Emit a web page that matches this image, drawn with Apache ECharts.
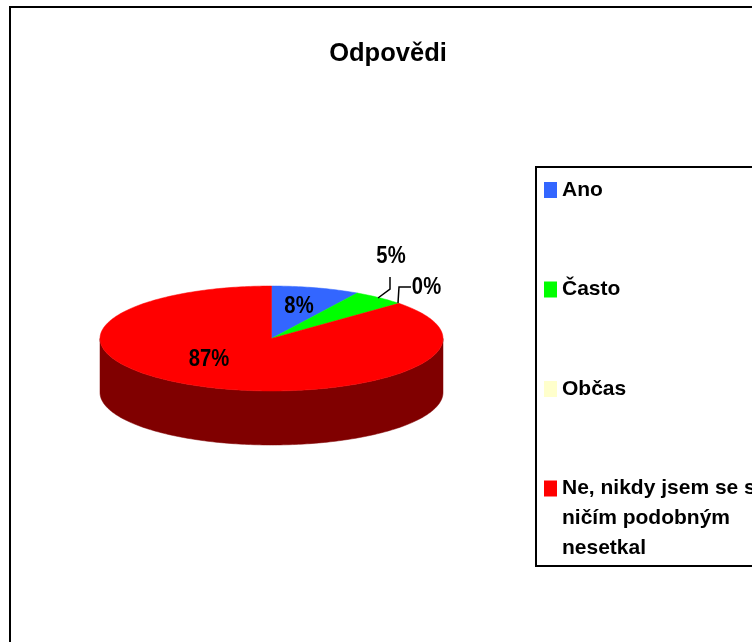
<!DOCTYPE html>
<html><head><meta charset="utf-8">
<style>html,body{margin:0;padding:0;width:752px;height:642px;overflow:hidden;background:#fff}#c{width:1000px;height:800px}</style>
<script src="https://cdn.jsdelivr.net/npm/echarts@6/dist/echarts.min.js"></script>
</head><body><div id="c"></div>
<script>
const categories = ['Ano', 'Často', 'Občas', 'Ne, nikdy jsem se s ničím podobným nesetkal'];
const values = [5, 3, 0, 52];
const colors = ['#3366FF', '#00FF00', '#FFFFCC', '#FF0000'];
const wallColors = ['#1A3380', '#008000', '#808066', '#800000'];
const titleText = 'Odpovědi';

// layout of the tilted pie
const pie = { cx: 271.5, cy: 338.5, rx: 171.5, ry: 52.5, depth: 54 };
const labelPos = [[299, 306.5], [391, 257], [426.5, 288], [209, 360]];
const leaders = [null, [[390, 277], [390, 289], [378, 298]], [[411, 287], [399, 287], [398, 303]], null];
const FONT = '"Liberation Sans",Arial,sans-serif';

const total = values.reduce((a, b) => a + b, 0);
function pt(deg, dy) {
  const t = deg * Math.PI / 180;
  return [pie.cx + pie.rx * Math.sin(t), pie.cy - pie.ry * Math.cos(t) + (dy || 0)];
}
function arc(a, b, dy) {
  const out = [];
  for (let d = a; d < b; d += 1) out.push(pt(d, dy));
  out.push(pt(b, dy));
  return out;
}
function sliceRender(i) {
  return function () {
    let before = 0;
    for (let k = 0; k < i; k++) before += values[k];
    const a = before / total * 360, b = (before + values[i]) / total * 360;
    const children = [];
    const fa = Math.max(a, 90), fb = Math.min(b, 270);
    if (fb > fa) {
      children.push({ type: 'polygon', z2: 1, shape: { points: arc(fa, fb, 0).concat(arc(fa, fb, pie.depth).reverse()) },
        style: { fill: wallColors[i], stroke: wallColors[i], lineWidth: 0.5 } });
    }
    if (b > a) {
      children.push({ type: 'polygon', z2: 2, shape: { points: [[pie.cx, pie.cy]].concat(arc(a, b, 0)) },
        style: { fill: colors[i], stroke: colors[i], lineWidth: 0.5 } });
    }
    if (leaders[i]) {
      children.push({ type: 'polyline', z2: 5, shape: { points: leaders[i] }, style: { fill: null, stroke: '#000', lineWidth: 1.5 } });
    }
    children.push({ type: 'text', z2: 6, x: labelPos[i][0], y: labelPos[i][1], scaleX: 0.88,
      style: { text: Math.round(values[i] / total * 100) + '%', fill: '#000', align: 'center', verticalAlign: 'middle',
        font: 'bold 23px ' + FONT } });
    return { type: 'group', children };
  };
}
const chart = echarts.init(document.getElementById('c'), null, { renderer: 'canvas' });
chart.setOption({
  animation: false,
  backgroundColor: '#fff',
  title: { text: titleText, left: 388, top: 41, textAlign: 'center', padding: 0,
    textStyle: { fontFamily: FONT, fontWeight: 'bold', fontSize: 25.5, color: '#000' } },
  legend: {
    orient: 'vertical', left: 544, top: 115, padding: 0,
    itemWidth: 13, itemHeight: 16, itemGap: -50.5, icon: 'rect', selectedMode: false,
    // blank lines keep the symbol level with the first text line of every item
    formatter: n => n.indexOf(' se s ') < 0 ? '\n\n' + n + '\n\n'
      : '\n\n' + n.replace(' se s ', ' se s\n').replace('podobným ', 'podobným\n'),
    textStyle: { fontFamily: FONT, fontWeight: 'bold', fontSize: 21, color: '#000', lineHeight: 30 },
    data: categories
  },
  graphic: [
    { type: 'rect', z: -2, silent: true, shape: { x: 10, y: 7, width: 1200, height: 1000 }, style: { fill: '#fff', stroke: '#000', lineWidth: 2 } },
    { type: 'rect', z: -1, silent: true, shape: { x: 536, y: 167, width: 600, height: 399 }, style: { fill: '#fff', stroke: '#000', lineWidth: 2 } }
  ],
  series: categories.map((name, i) => ({
    type: 'custom', name, coordinateSystem: 'none', silent: true,
    itemStyle: { color: colors[i] }, data: [[values[i]]], renderItem: sliceRender(i)
  }))
});
</script></body></html>
